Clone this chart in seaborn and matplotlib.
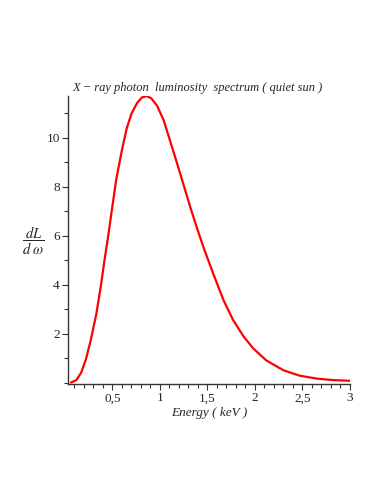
import matplotlib
matplotlib.use("Agg")
import matplotlib.pyplot as plt
import matplotlib.ticker as mticker
import seaborn as sns
import pandas as pd

# X-ray photon luminosity spectrum
energy = [0.063, 0.12, 0.17, 0.22, 0.27, 0.33, 0.38, 0.42, 0.45, 0.49, 0.54,
          0.6, 0.65, 0.7, 0.76, 0.81, 0.86, 0.91, 0.97, 1.04, 1.1, 1.18,
          1.25, 1.32, 1.39, 1.46, 1.56, 1.67, 1.77, 1.88, 1.98, 2.12, 2.3,
          2.47, 2.65, 2.82, 3.0]
dl_domega = [0.0, 0.1, 0.4, 0.94, 1.7, 2.8, 4.0, 5.1, 5.85, 6.95, 8.3,
             9.5, 10.38, 10.98, 11.42, 11.64, 11.7, 11.6, 11.3, 10.7, 9.95, 8.95,
             8.05, 7.15, 6.3, 5.5, 4.45, 3.35, 2.55, 1.88, 1.4, 0.9, 0.5,
             0.28, 0.16, 0.1, 0.07]

x_ticks = [0.5, 1, 1.5, 2, 2.5, 3]
y_ticks = [2, 4, 6, 8, 10]


def comma_fmt(v, pos):
    return f"{v:g}".replace(".", ",")


sns.set_style("ticks")
plt.rcParams.update({
    "font.family": ["Liberation Serif", "DejaVu Serif"],
    "mathtext.fontset": "stix",
})

df = pd.DataFrame({"energy": energy, "dL": dl_domega})

fig = plt.figure(figsize=(3.82, 4.94), dpi=100)
ax = fig.add_axes([68 / 382, 1 - 384 / 494, 282 / 382, 288 / 494])
sns.lineplot(data=df, x="energy", y="dL", ax=ax, color="#ff0000", linewidth=1.6)

ax.set_xlim(0.032, 3.0)
ax.set_ylim(-0.06, 11.7)
ax.set_xticks(x_ticks)
ax.set_yticks(y_ticks)
ax.xaxis.set_minor_locator(mticker.MultipleLocator(0.1))
ax.yaxis.set_minor_locator(mticker.MultipleLocator(1))
ax.xaxis.set_major_formatter(mticker.FuncFormatter(comma_fmt))
ax.tick_params(which="major", length=4, width=0.8, labelsize=9.5, pad=2, color="#333333")
ax.tick_params(which="minor", length=3, width=0.8, color="#333333")
for side in ["top", "right"]:
    ax.spines[side].set_visible(False)
for side in ["left", "bottom"]:
    ax.spines[side].set_linewidth(1.0)
    ax.spines[side].set_color("#333333")

ax.set_xlabel("Energy ( keV )", fontsize=9.5, fontstyle="italic", labelpad=2)
ax.set_ylabel("")
fig.text(33 / 382, 1 - 241 / 494, r"$\dfrac{dL}{d\ \omega}$", fontsize=10.5,
         ha="center", va="center")
fig.text(72 / 382, 1 - 88 / 494,
         "X \u2212 ray photon  luminosity  spectrum ( quiet sun )",
         fontsize=9, fontstyle="italic", ha="left", va="center")

fig.savefig("out.png", dpi=100)
